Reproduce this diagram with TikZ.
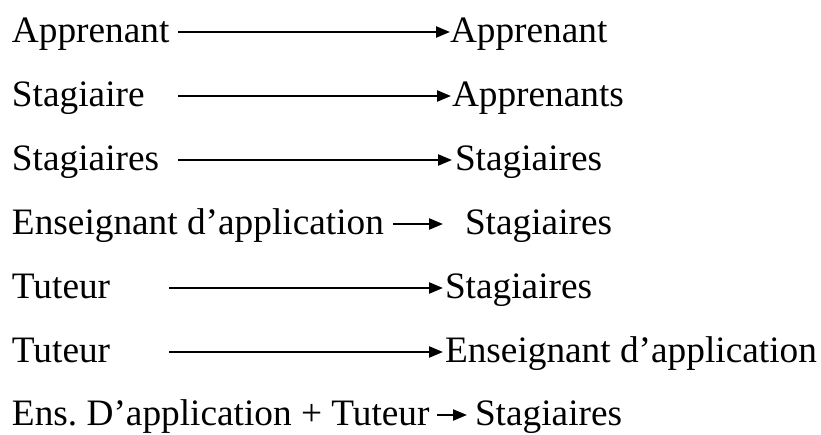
\documentclass[tikz,border=0pt]{standalone}
\usepackage{fontspec}
\setmainfont{Liberation Serif}
\usetikzlibrary{arrows.meta}

\begin{document}
\begin{tikzpicture}[x=1pt, y=-1pt, word/.style={anchor=base west, inner sep=0, outer sep=0, font=\fontsize{37.3}{40}\selectfont\frenchspacing}, >={Triangle[length=14pt, width=11pt]}, line width=2.3pt]
				\useasboundingbox (0,0) rectangle (821,434);
				\node[word] (01) at (12,42) {Apprenant};
				\node[word] (11) at (450,42) {Apprenant};
				\coordinate (21) at (178,32);
				\draw[->] (21) to (21 -| 11.west);
				\node[word] (02) at (12,106) {Stagiaire};
				\node[word] (12) at (452,106) {Apprenants};
				\coordinate (22) at (178,96);
				\draw[->, shorten >=1pt] (22) to (22 -| 12.west);
				\node[word] (03) at (12,170) {Stagiaires};
				\node[word] (13) at (455,170) {Stagiaires};
				\coordinate (23) at (178,160);
				\draw[->, shorten >=3pt] (23) to (23 -| 13.west);
				\node[word] (04) at (12,234) {Enseignant d’application};
				\node[word] (14) at (465,234) {Stagiaires};
				\coordinate (24) at (393,224);
				\draw[->, shorten >=22pt] (24) to (24 -| 14.west);
				\node[word] (05) at (12,298) {Tuteur};
				\node[word] (15) at (445,298) {Stagiaires};
				\coordinate (25) at (169,288);
				\draw[->, shorten >=2pt] (25) to (25 -| 15.west);
				\node[word] (06) at (12,362) {Tuteur};
				\node[word] (16) at (445,362) {Enseignant d’application};
				\coordinate (26) at (169,352);
				\draw[->, shorten >=2pt] (26) to (26 -| 16.west);
				\node[word] (07) at (12,425) {Ens. D’application + Tuteur};
				\node[word] (17) at (475,425) {Stagiaires};
				\coordinate (27) at (437,415);
				\draw[->, shorten >=8pt] (27) to (27 -| 17.west);
			\end{tikzpicture}
\end{document}
